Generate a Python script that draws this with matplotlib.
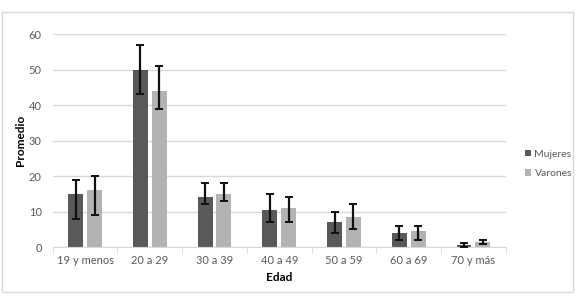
import matplotlib
matplotlib.use("Agg")
import matplotlib.pyplot as plt
import numpy as np
from matplotlib.patches import Rectangle

categories = ["19 y menos", "20 a 29", "30 a 39", "40 a 49", "50 a 59", "60 a 69", "70 y más"]
mujeres = [15, 50, 14, 10.5, 7, 4, 0.5]
mujeres_low = [8, 43, 12, 7, 4, 2, 0]
mujeres_high = [19, 57, 18, 15, 10, 6, 1]
varones = [16, 44, 15, 11, 8.5, 4.5, 1.5]
varones_low = [9, 39, 13, 7, 5, 2, 0.8]
varones_high = [20, 51, 18, 14, 12, 6, 2]

plt.rcParams['font.family'] = ['Lato', 'DejaVu Sans']
fig = plt.figure(figsize=(5.8, 3.04), dpi=100)
fig.patches.append(Rectangle((0.003, 0.04), 0.985, 0.92, transform=fig.transFigure,
                             fill=False, edgecolor="#d9d9d9", linewidth=1.0))
ax = fig.add_axes([0.091, 0.1875, 0.781, 0.7005])

x = np.arange(len(categories))
w = 0.23
off = 0.145
m = np.array(mujeres); v = np.array(varones)
merr = [m - np.array(mujeres_low), np.array(mujeres_high) - m]
verr = [v - np.array(varones_low), np.array(varones_high) - v]
ax.bar(x - off, m, w, color="#595959", label="Mujeres", zorder=2)
ax.bar(x + off, v, w, color="#b3b3b3", label="Varones", zorder=2)
ax.errorbar(x - off, m, yerr=merr, fmt="none", ecolor="#111111", elinewidth=1.6, capsize=3, capthick=1.4, zorder=3)
ax.errorbar(x + off, v, yerr=verr, fmt="none", ecolor="#111111", elinewidth=1.6, capsize=3, capthick=1.4, zorder=3)

ax.set_ylim(0, 60)
ax.set_xlim(-0.5, len(categories) - 0.5)
ax.set_yticks(range(0, 61, 10))
ax.yaxis.grid(True, color="#d9d9d9", linewidth=1.0, zorder=0)
ax.set_axisbelow(True)
for s in ["top", "right", "left"]:
    ax.spines[s].set_visible(False)
ax.spines["bottom"].set_color("#d9d9d9")
ax.set_xticks(x)
ax.set_xticklabels(categories)
ax.set_xticks(np.arange(-0.5, len(categories), 1), minor=True)
ax.tick_params(axis="x", which="major", length=0, pad=6, labelsize=8, labelcolor="#595959")
ax.tick_params(axis="x", which="minor", length=4, color="#d9d9d9")
ax.tick_params(axis="y", length=0, pad=8, labelsize=8, labelcolor="#595959")
ax.set_ylabel("Promedio", fontsize=8.5, fontweight="bold", labelpad=2)
ax.set_xlabel("Edad", fontsize=8.5, fontweight="bold", labelpad=4)

leg = ax.legend(loc="center left", bbox_to_anchor=(1.022, 0.39), frameon=False, fontsize=7.5,
                handlelength=0.6, handleheight=0.6, handletextpad=0.3, labelspacing=1.0,
                labelcolor="#595959")

fig.savefig("out.png", dpi=100)
